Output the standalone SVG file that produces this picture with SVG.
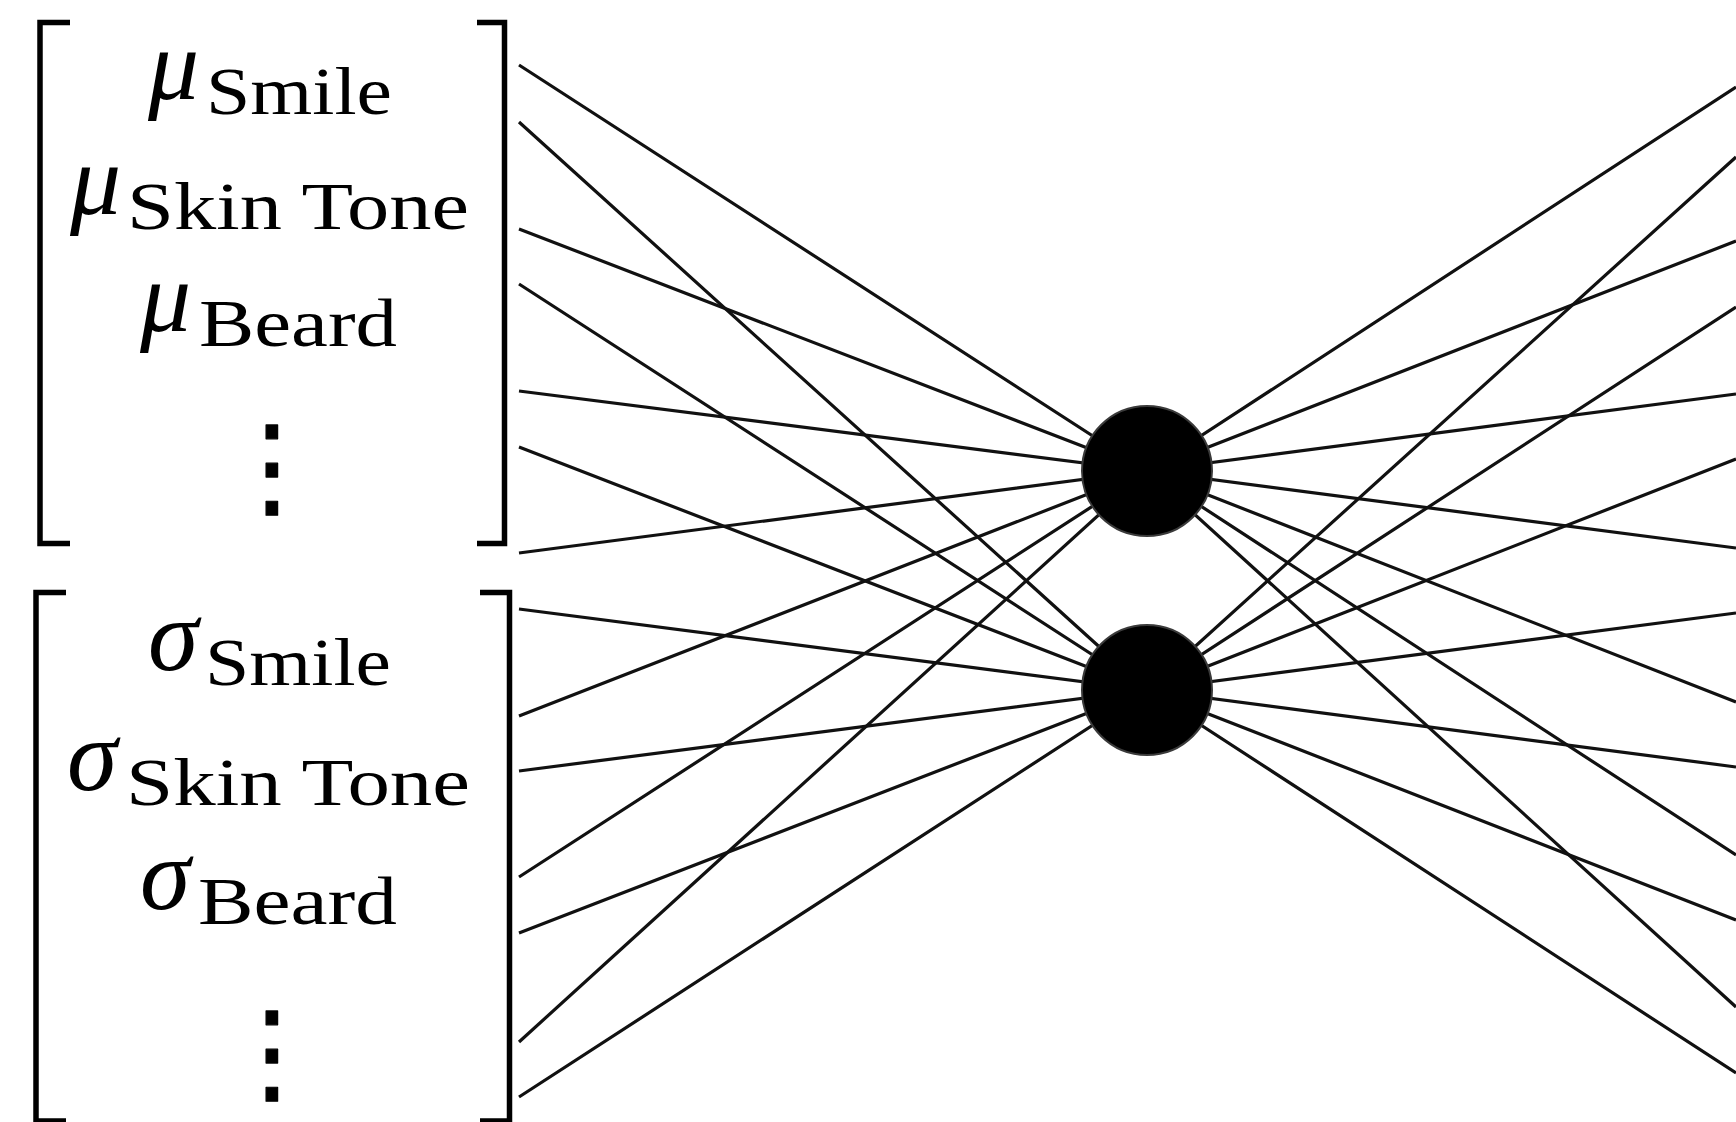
<svg xmlns="http://www.w3.org/2000/svg" width="1736" height="1122" viewBox="0 0 1736 1122">
<style>
.br{fill:none;stroke:#000;stroke-width:5.5;stroke-linejoin:miter;stroke-linecap:butt}
.gk{font-family:"Liberation Serif","Times New Roman",serif;font-style:italic;font-size:102px;fill:#000}
.sb{font-family:"Liberation Serif","Times New Roman",serif;font-size:68px;fill:#000}
.vd{font-family:"DejaVu Serif","DejaVu Sans",serif;font-size:112px;fill:#000;text-anchor:middle;stroke:#000;stroke-width:1.2;stroke-linejoin:round}
.ln{stroke:#111;stroke-width:3.2;fill:none}
.nd{fill:#000;stroke:#3a3a3a;stroke-width:2}
</style>
<rect width="1736" height="1122" fill="#fff"/>
<g id="connectors">
<path class="ln" d="M519,65L1147,471M519,229L1147,471M519,391L1147,471M519,553L1147,471M519,716L1147,471M519,877L1147,471M519,1042L1147,471"/>
<path class="ln" d="M519,122L1147,690M519,284L1147,690M519,447L1147,690M519,609L1147,690M519,771L1147,690M519,933L1147,690M519,1097L1147,690"/>
<path class="ln" d="M1147,471L1736,87M1147,471L1736,241M1147,471L1736,394M1147,471L1736,548M1147,471L1736,702M1147,471L1736,855M1147,471L1736,1007"/>
<path class="ln" d="M1147,690L1736,157M1147,690L1736,307M1147,690L1736,459M1147,690L1736,613M1147,690L1736,767M1147,690L1736,920M1147,690L1736,1073"/>
</g>
<g id="hidden-1"><circle class="nd" cx="1147" cy="471" r="65"/></g>
<g id="hidden-2"><circle class="nd" cx="1147" cy="690" r="65"/></g>
<g id="mu-vector">
<path class="br" d="M70,22.5H40V543.5H70"/>
<path class="br" d="M477,22.5H504.5V543.5H477"/>
<text class="gk" x="148" y="99">μ</text>
<text class="sb" x="206" y="114" textLength="186" lengthAdjust="spacingAndGlyphs">Smile</text>
<text class="gk" x="70" y="214">μ</text>
<text class="sb" x="127" y="229" textLength="342" lengthAdjust="spacingAndGlyphs">Skin Tone</text>
<text class="gk" x="140" y="331">μ</text>
<text class="sb" x="199" y="346" textLength="198" lengthAdjust="spacingAndGlyphs">Beard</text>
<text class="vd" x="272" y="505">⋮</text>
</g>
<g id="sigma-vector">
<path class="br" d="M66,592.5H36V1121H66"/>
<path class="br" d="M480,592.5H509.5V1121H480"/>
<text class="gk" x="148" y="670">σ</text>
<text class="sb" x="205" y="685" textLength="186" lengthAdjust="spacingAndGlyphs">Smile</text>
<text class="gk" x="67" y="790">σ</text>
<text class="sb" x="126" y="805" textLength="344" lengthAdjust="spacingAndGlyphs">Skin Tone</text>
<text class="gk" x="140" y="909">σ</text>
<text class="sb" x="198" y="924" textLength="199" lengthAdjust="spacingAndGlyphs">Beard</text>
<text class="vd" x="272" y="1091">⋮</text>
</g>
</svg>
